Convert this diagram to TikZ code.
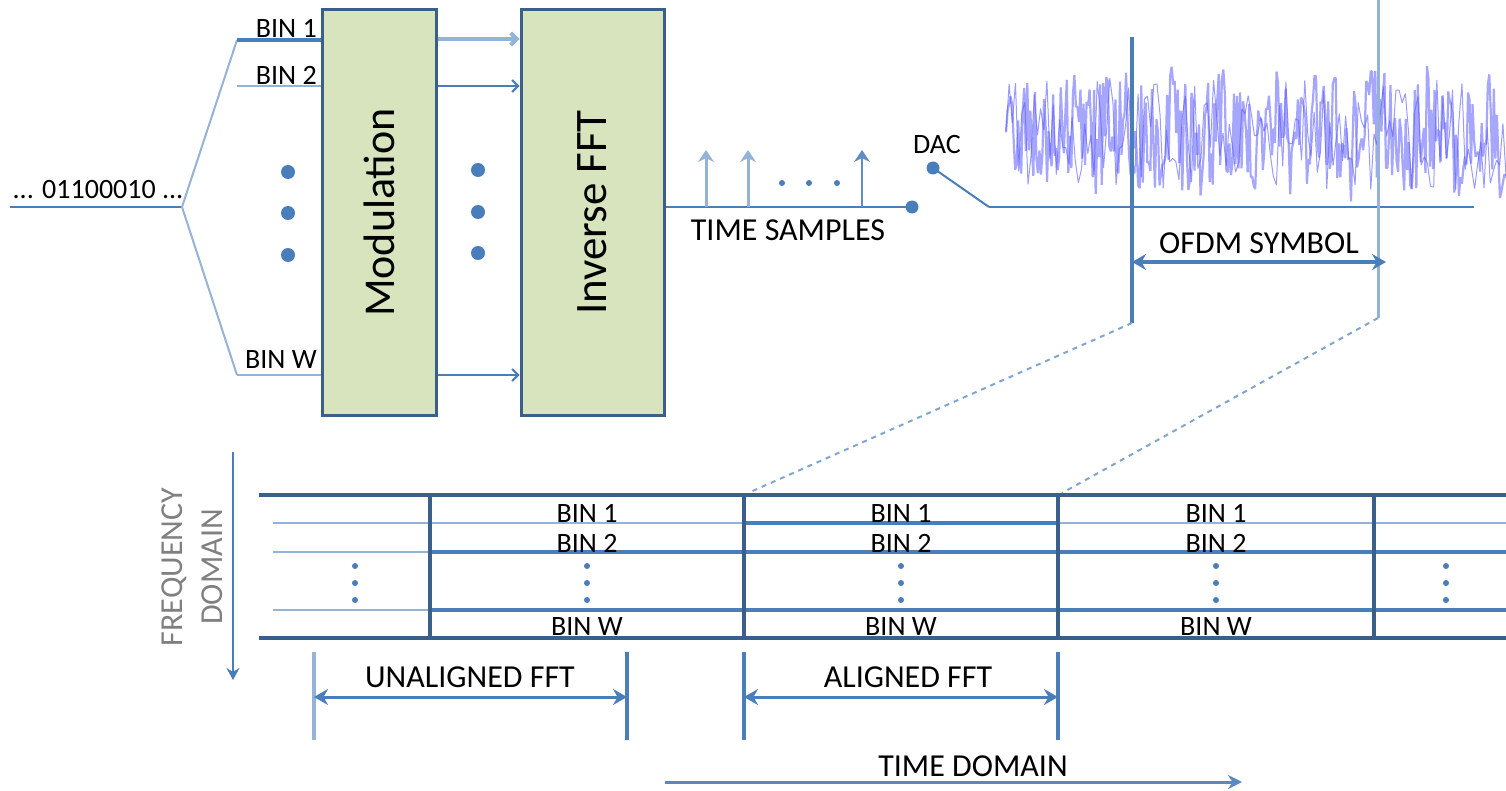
\documentclass[tikz,border=0pt]{standalone}
\usepackage{fontspec}
\setmainfont{Carlito}
\usepackage{graphicx}
\usetikzlibrary{arrows.meta}
\definecolor{cBlue}{HTML}{4A7EBB}
\definecolor{cLight}{HTML}{95B3D7}
\definecolor{cDark}{HTML}{3A5F8B}
\definecolor{cFill}{HTML}{D7E4BD}
\definecolor{cWave}{HTML}{A6A6FF}
\definecolor{cWaveD}{HTML}{5A5AFF}
\definecolor{cGray}{HTML}{808080}
\begin{document}
\begin{tikzpicture}[x=1pt,y=-1pt,
  lbl/.style={font=\fontsize{32}{36}\selectfont, inner sep=0pt, text=black},
  slbl/.style={font=\fontsize{28}{32}\selectfont, inner sep=0pt, text=black},
  box/.style={draw=cDark, line width=3pt, fill=cFill, inner sep=0pt},
  wire/.style={draw=cBlue, line width=2pt},
  lwire/.style={draw=cLight, line width=2pt},
  arr/.style={draw=cBlue, line width=2pt, -{Straight Barb[length=6pt,width=12pt]}},
  samp/.style={draw=cLight, line width=3pt, -{Stealth[length=12pt,width=16pt]}},
  dimarr/.style={draw=cBlue, line width=3pt, {Stealth[length=14pt,width=16pt]}-{Stealth[length=14pt,width=16pt]}},
  tick/.style={draw=cBlue, line width=3.5pt},
  gdark/.style={draw=cDark, line width=3.5pt},
  gmid/.style={draw=cBlue, line width=4pt},
  glight/.style={draw=cLight, line width=2pt},
  bigdot/.style={fill=cBlue},
]
\useasboundingbox (0,0) rectangle (1506,791);

% ---------- input and fan ----------
\coordinate (in) at (10,207);
\coordinate (fork) at (182,207);
\coordinate (k1) at (237,40);
\coordinate (kw) at (237,375);
\coordinate (k2) at (237,86);
\node[box, minimum width=114pt, minimum height=405pt] (mod) at (379,212.5)
  {\rotatebox{90}{\fontsize{44}{48}\selectfont Modulation}};
\node[box, minimum width=143pt, minimum height=405pt] (ifft) at (592.5,212.5)
  {\rotatebox{90}{\fontsize{45}{48}\selectfont Inverse FFT}};

\node[slbl] (bits) at (98,190) {... 01100010 ...};
\draw[wire] (in) -- (fork);
\draw[lwire] (fork) -- (k1);
\draw[lwire] (fork) -- (kw);
\draw[draw=cBlue, line width=4pt] (k1) -- (mod.west |- k1);
\draw[lwire] (k2) -- (mod.west |- k2);
\draw[lwire] (kw) -- (mod.west |- kw);
\node[slbl, anchor=east] (b1) at (317,28) {BIN 1};
\node[slbl, anchor=east] (b2) at (317,75) {BIN 2};
\node[slbl, anchor=east] (bw) at (317,360) {BIN W};
\foreach \yy in {172,213,255} \fill[bigdot] (288,\yy) circle (7);

% ---------- modulation -> IFFT ----------
\coordinate (y1) at (0,39);
\coordinate (y2) at (0,86);
\coordinate (y3) at (0,375);
\draw[arr, draw=cLight, line width=4pt] (mod.east |- y1) -- (ifft.west |- y1);
\draw[arr] (mod.east |- y2) -- (ifft.west |- y2);
\draw[arr] (mod.east |- y3) -- (ifft.west |- y3);
\foreach \yy in {170,212,253} \fill[bigdot] (478,\yy) circle (7);

% ---------- time samples ----------
\coordinate (ts) at (912,207);
\draw[wire] (ifft.east |- ts) -- (ts);
\fill[bigdot] (ts) circle (6.5);
\coordinate (s1) at (706,207); \coordinate (s1t) at (706,150);
\coordinate (s2) at (748,207); \coordinate (s2t) at (748,150);
\coordinate (s3) at (862,207); \coordinate (s3t) at (862,150);
\draw[samp] (s1) -- (s1t);
\draw[samp] (s2) -- (s2t);
\draw[samp, draw=cBlue!70!cLight, line width=2.5pt] (s3) -- (s3t);
\foreach \xx in {782,809,837} \fill[cBlue] (\xx,183) circle (3);
\node[lbl] (tsl) at (788,230) {TIME SAMPLES};

% ---------- DAC ----------
\coordinate (dac) at (933,168);
\coordinate (dacend) at (989,207);
\coordinate (axisend) at (1474,207);
\fill[bigdot] (dac) circle (6.5);
\draw[wire] (dac) -- (dacend);
\node[slbl] (daclbl) at (937,145) {DAC};
\pgfmathsetseed{11}
\draw[cWave, line width=2.2pt, line join=bevel] plot[domain=1006:1506, samples=330] (\x,{134+58*rand+10*sin(\x*7)});
\pgfmathsetseed{5}
\draw[cWaveD, line width=1pt, opacity=0.6, line join=bevel] plot[domain=1006:1506, samples=160] (\x,{134+56*rand});
\draw[wire] (dacend) -- (axisend);

% ---------- OFDM symbol ----------
\coordinate (vL0) at (1132,37);
\coordinate (vL1) at (1132,323);
\coordinate (vR0) at (1378,0);
\coordinate (vR1) at (1378,318);
\draw[draw=cBlue, line width=4pt] (vL0) -- (vL1);
\draw[draw=cLight, line width=3pt] (vR0) -- (vR1);
\coordinate (oA) at (1132,262);
\coordinate (oB) at (1386,262);
\draw[dimarr, line width=4pt] (oA) -- (oB);
\node[lbl] (ofdm) at (1259,243) {OFDM SYMBOL};

% ---------- dashed zoom lines ----------
\coordinate (dz1) at (748,493);
\coordinate (dz2) at (1062,493);
\draw[draw=cBlue!70!white, line width=2pt, dash pattern=on 5pt off 5pt] (vL1) -- (dz1);
\draw[draw=cBlue!70!white, line width=2pt, dash pattern=on 5pt off 5pt] (vR1) -- (dz2);

% ---------- frequency domain grid ----------
\coordinate (fa0) at (233,452);
\coordinate (fa1) at (233,680);
\draw[draw=cBlue, line width=2.5pt, -{Stealth[length=12pt,width=13pt]}] (fa0) -- (fa1);
\node[font=\fontsize{32}{40}\selectfont, text=cGray, align=center, rotate=90, inner sep=0pt] (fdl) at (192,567) {FREQUENCY\\DOMAIN};

% horizontal lines
\draw[glight] (273,523) -- (430,523);
\draw[glight] (273,552) -- (430,552);
\draw[glight] (273,610) -- (430,610);
\draw[glight] (430,523) -- (744,523);
\draw[gmid] (744,523) -- (1058,523);
\draw[glight] (1058,523) -- (1506,523);
\draw[gmid] (430,552) -- (1506,552);
\draw[gmid] (430,610) -- (1506,610);
\draw[gdark] (259,495) -- (1506,495);
\draw[gdark] (259,638) -- (1506,638);
% vertical lines
\foreach \xx in {430,744,1058,1374} \draw[gdark] (\xx,495) -- (\xx,638);

% cell labels
\foreach \cx in {587,901,1216} {
  \node[slbl] at (\cx,513) {BIN 1};
  \node[slbl] at (\cx,543) {BIN 2};
  \node[slbl] at (\cx,627) {BIN W};
  \foreach \yy in {566,583,600} \fill[cBlue] (\cx,\yy) circle (3);
}
\foreach \cx in {355,1446} {
  \foreach \yy in {566,583,600} \fill[cBlue] (\cx,\yy) circle (3);
}

% ---------- FFT windows ----------
\coordinate (u0) at (314,652); \coordinate (u0b) at (314,740);
\coordinate (u1) at (627,652); \coordinate (u1b) at (627,740);
\coordinate (a0) at (744,652); \coordinate (a0b) at (744,740);
\coordinate (a1) at (1058,652); \coordinate (a1b) at (1058,740);
\draw[tick, draw=cLight] (u0) -- (u0b);
\draw[tick] (u1) -- (u1b);
\draw[tick] (a0) -- (a0b);
\draw[tick] (a1) -- (a1b);
\coordinate (ua) at (314,697); \coordinate (ub) at (627,697);
\coordinate (aa) at (744,697); \coordinate (ab) at (1058,697);
\draw[dimarr] (ua) -- (ub);
\draw[dimarr] (aa) -- (ab);
\node[lbl] (unal) at (470,677) {UNALIGNED FFT};
\node[lbl] (al) at (908,677) {ALIGNED FFT};

% ---------- time domain ----------
\coordinate (td0) at (665,782);
\coordinate (td1) at (1242,782);
\draw[draw=cBlue!80!cLight, line width=3pt, -{Stealth[length=14pt,width=14pt]}] (td0) -- (td1);
\node[lbl] (tdl) at (973,766) {TIME DOMAIN};
\end{tikzpicture}
\end{document}
